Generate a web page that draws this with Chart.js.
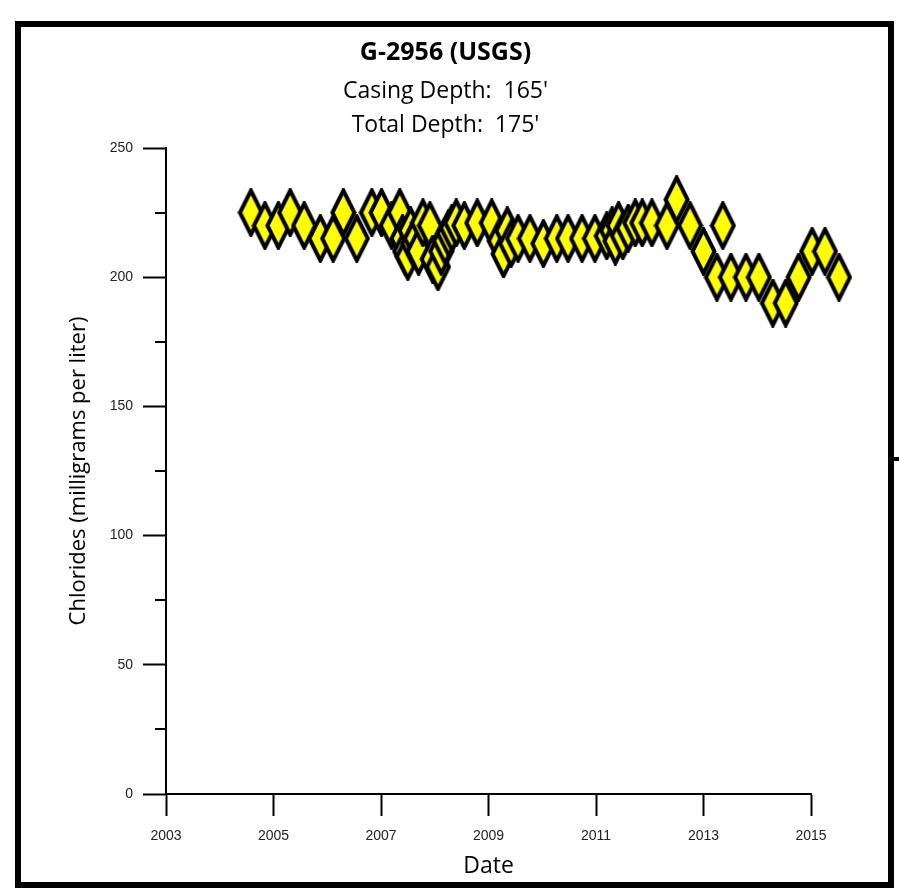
<!DOCTYPE html>
<html>
<head>
<meta charset="utf-8">
<script src="https://cdn.jsdelivr.net/npm/chart.js@4"></script>
<style>
html, body { margin: 0; padding: 0; background: #fff; }
#wrap { width: 899px; height: 888px; position: relative; }
</style>
</head>
<body>
<div id="wrap"><canvas id="myChart"></canvas></div>
<script>
// sample dates as decimal years, chloride values in mg/L
var sampleYears = [2004.58, 2004.84, 2005.09, 2005.31, 2005.57, 2005.87, 2006.11, 2006.30, 2006.55, 2006.83,
    2007.01, 2007.20, 2007.35, 2007.40, 2007.45, 2007.50, 2007.55, 2007.60, 2007.65, 2007.70,
    2007.78, 2007.91, 2007.96, 2008.06, 2008.12, 2008.19, 2008.26, 2008.32, 2008.40, 2008.55,
    2008.79, 2009.06, 2009.21, 2009.28, 2009.35, 2009.42, 2009.55, 2009.77, 2010.02, 2010.27,
    2010.48, 2010.74, 2010.98, 2011.20, 2011.30, 2011.36, 2011.42, 2011.50, 2011.60, 2011.73,
    2011.86, 2012.04, 2012.32, 2012.50, 2012.75, 2013.00, 2013.25, 2013.36, 2013.51, 2013.79,
    2014.03, 2014.29, 2014.53, 2014.77, 2015.02, 2015.26, 2015.52];
var chlorides = [225, 220, 220, 225, 220, 215, 215, 225, 215, 225,
    225, 220, 225, 215, 210, 208, 218, 213, 215, 210,
    221, 220, 207, 204, 210, 214, 217, 219, 221, 220,
    221, 221, 214, 209, 218, 213, 215, 215, 213, 215,
    215, 215, 215, 216, 218, 214, 220, 216, 219, 221,
    221, 221, 220, 230, 220, 210, 200, 220, 200, 200,
    200, 190, 190, 200, 210, 210, 200];
var xTicks = [2003, 2005, 2007, 2009, 2011, 2013, 2015];
var yTicks = [0, 50, 100, 150, 200, 250];
var yMinorTicks = [25, 75, 125, 175, 225];

var points = sampleYears.map(function (yr, i) {
    return { x: yr, y: chlorides[i] };
});

// tall yellow diamond marker
var diamond = document.createElement('canvas');
diamond.width = 27;
diamond.height = 49;
var dc = diamond.getContext('2d');
dc.beginPath();
dc.moveTo(13.5, 2.5);
dc.lineTo(24.5, 24.5);
dc.lineTo(13.5, 46.5);
dc.lineTo(2.5, 24.5);
dc.closePath();
dc.fillStyle = '#FFFF00';
dc.fill();
dc.lineWidth = 4;
dc.strokeStyle = '#000';
dc.stroke();

var frame = {
    id: 'frame',
    afterDraw: function (chart) {
        var ctx = chart.ctx;
        var ys = chart.scales.y;
        var left = chart.chartArea.left;
        ctx.save();
        ctx.strokeStyle = '#000';
        ctx.lineWidth = 2;
        yMinorTicks.forEach(function (v) {
            var py = Math.round(ys.getPixelForValue(v));
            ctx.beginPath();
            ctx.moveTo(left - 11, py);
            ctx.lineTo(left, py);
            ctx.stroke();
        });
        ctx.lineWidth = 6;
        ctx.strokeRect(18, 24, 873, 861);
        ctx.fillStyle = '#000';
        ctx.fillRect(891, 457, 8, 4);
        ctx.restore();
    }
};

new Chart('myChart', {
    type: 'scatter',
    data: {
        datasets: [{
            data: points,
            pointStyle: diamond,
            // large radius only widens the area check so points past 2015 still draw
            pointRadius: 30,
            clip: false,
            showLine: false
        }]
    },
    plugins: [frame],
    options: {
        responsive: true,
        maintainAspectRatio: false,
        animation: false,
        layout: { padding: { top: 0, right: 8, bottom: 0, left: 0 } },
        plugins: {
            legend: { display: false },
            tooltip: { enabled: false },
            title: {
                display: true,
                text: 'G-2956 (USGS)',
                color: '#000',
                font: { family: 'Open Sans', size: 25, weight: 'bold', lineHeight: 1.2 },
                padding: { top: 38, bottom: 2 }
            },
            subtitle: {
                display: true,
                text: ["Casing Depth:  165'", "Total Depth:  175'"],
                color: '#000',
                font: { family: 'Open Sans', size: 23, lineHeight: 34 / 23 },
                padding: { top: 4, bottom: 6 }
            }
        },
        scales: {
            x: {
                type: 'linear',
                bounds: 'data',
                afterDataLimits: function (s) {
                    s.min = xTicks[0];
                    s.max = xTicks[xTicks.length - 1];
                },
                afterBuildTicks: function (s) {
                    s.ticks = xTicks.map(function (v) { return { value: v }; });
                },
                afterFit: function (s) { s.height = 94; },
                border: { display: true, color: '#000', width: 2 },
                grid: { drawOnChartArea: false, drawTicks: true, tickLength: 22, tickColor: '#000', tickWidth: 2 },
                ticks: {
                    padding: 12,
                    color: '#222',
                    font: { family: 'Liberation Sans', size: 14 },
                    callback: function (v) { return String(v); }
                },
                title: {
                    display: true,
                    text: 'Date',
                    color: '#000',
                    font: { family: 'Open Sans', size: 23, lineHeight: 1.2 },
                    padding: { top: 0, bottom: 8 }
                }
            },
            y: {
                type: 'linear',
                min: yTicks[0],
                max: yTicks[yTicks.length - 1],
                afterBuildTicks: function (s) {
                    s.ticks = yTicks.map(function (v) { return { value: v }; });
                },
                afterFit: function (s) { s.width = 166; },
                border: { display: true, color: '#000', width: 2 },
                grid: { drawOnChartArea: false, drawTicks: true, tickLength: 23, tickColor: '#000', tickWidth: 2 },
                ticks: {
                    padding: 10,
                    color: '#222',
                    font: { family: 'Liberation Sans', size: 14 },
                    callback: function (v) { return String(v); }
                },
                title: {
                    display: true,
                    text: 'Chlorides (milligrams per liter)',
                    color: '#000',
                    font: { family: 'Open Sans', size: 22, lineHeight: 1.2 },
                    padding: { top: 66, bottom: 0 }
                }
            },
            // empty right-hand axis that keeps the space right of 2015
            yRight: {
                type: 'linear',
                position: 'right',
                display: true,
                afterFit: function (s) { s.width = 80; },
                border: { display: false },
                grid: { display: false },
                ticks: { display: false }
            }
        }
    }
});
</script>
</body>
</html>
